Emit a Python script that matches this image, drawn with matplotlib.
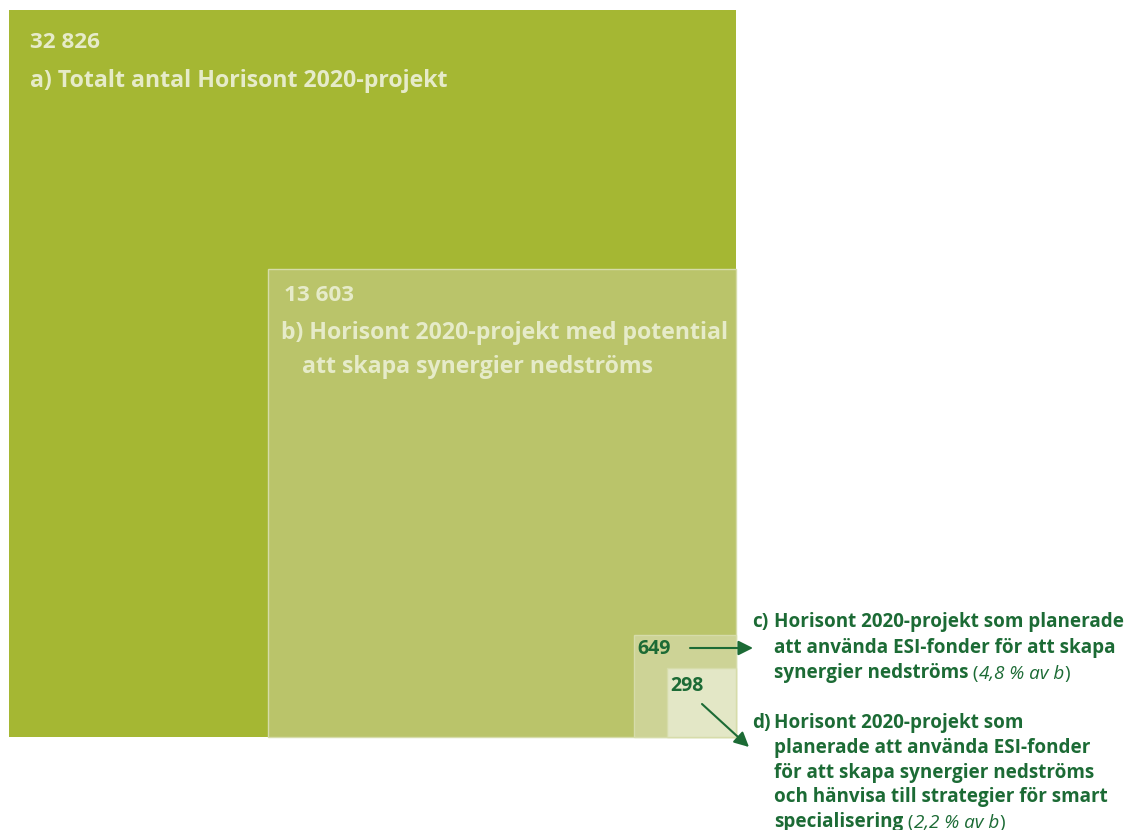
import matplotlib.pyplot as plt
from matplotlib.patches import Rectangle

# Values for the nested squares (area proportional)
labels = ["a", "b", "c", "d"]
values = [32826, 13603, 649, 298]
value_text = ["32 826", "13 603", "649", "298"]
fills = ["#a5b733", "#bac46a", "#cdd396", "#e3e7c6"]

plt.rcParams['font.family'] = ['Open Sans', 'DejaVu Sans']

fig = plt.figure(figsize=(11.32, 8.30), dpi=100)
ax = fig.add_axes([0, 0, 1, 1])
ax.set_xlim(0, 1132)
ax.set_ylim(830, 0)
ax.axis('off')

# squares anchored at the bottom-right corner
right, bottom = 736, 737
side_a = 727
sides = [side_a * (v / values[0]) ** 0.5 for v in values]
for i, (s, col) in enumerate(zip(sides, fills)):
    ec = 'none' if i == 0 else '#d6dcaa'
    ax.add_patch(Rectangle((right - s, bottom - s), s, s, facecolor=col,
                           edgecolor=ec, lw=1.0, zorder=i + 1))

light = '#e6ebc9'
dark = '#1c6b35'
num = 16.2
big = 16.7

# labels inside the big squares
ax.text(right - sides[0] + 21, bottom - sides[0] + 32, value_text[0],
        color=light, fontsize=num, fontweight='bold', va='center', zorder=10)
ax.text(right - sides[0] + 21, bottom - sides[0] + 71,
        "a) Totalt antal Horisont 2020-projekt",
        color=light, fontsize=big, fontweight='bold', va='center', zorder=10)
ax.text(right - sides[1] + 16, bottom - sides[1] + 26, value_text[1],
        color=light, fontsize=num, fontweight='bold', va='center', zorder=10)
ax.text(right - sides[1] + 13, bottom - sides[1] + 64,
        "b) Horisont 2020-projekt med potential",
        color=light, fontsize=big, fontweight='bold', va='center', zorder=10)
ax.text(right - sides[1] + 34, bottom - sides[1] + 98,
        "att skapa synergier nedströms",
        color=light, fontsize=big, fontweight='bold', va='center', zorder=10)

# small squares numbers
ax.text(right - sides[2] + 4, 649, value_text[2], color=dark, fontsize=14,
        fontweight='bold', va='center', zorder=10)
ax.text(right - sides[3] + 4, 686, value_text[3], color=dark, fontsize=14,
        fontweight='bold', va='center', zorder=10)

# arrows
ax.annotate('', xy=(753, 648), xytext=(690, 648), zorder=10,
            arrowprops=dict(arrowstyle='-|>', color=dark, lw=1.5,
                            mutation_scale=22, shrinkA=0, shrinkB=0))
ax.annotate('', xy=(749, 747), xytext=(702, 704), zorder=10,
            arrowprops=dict(arrowstyle='-|>', color=dark, lw=1.5,
                            mutation_scale=22, shrinkA=0, shrinkB=0))

# right-hand descriptions
fs = 13.6
lh = 24.8


def after(txt, s, style='normal', weight='normal'):
    # place a text piece right after another one on the same baseline
    return ax.annotate(s, xycoords=txt, xy=(1, 0), color=dark, fontsize=fs,
                       va='bottom', ha='left', style=style, fontweight=weight)


c_lines = ["Horisont 2020-projekt som planerade",
           "att använda ESI-fonder för att skapa",
           "synergier nedströms"]
ax.text(752, 622, "c)", color=dark, fontsize=fs, fontweight='bold', va='center')
for k, line in enumerate(c_lines):
    t = ax.text(774, 622 + k * 25.5, line, color=dark, fontsize=fs,
                fontweight='bold', va='center')
u = after(t, " (")
u = after(u, "4,8 % av b", style='italic')
u = after(u, ")")

d_lines = ["Horisont 2020-projekt som",
           "planerade att använda ESI-fonder",
           "för att skapa synergier nedströms",
           "och hänvisa till strategier för smart",
           "specialisering"]
ax.text(752, 723, "d)", color=dark, fontsize=fs, fontweight='bold', va='center')
for k, line in enumerate(d_lines):
    t = ax.text(774, 723 + k * lh, line, color=dark, fontsize=fs,
                fontweight='bold', va='center')
u = after(t, " (")
u = after(u, "2,2 % av b", style='italic')
u = after(u, ")")

fig.savefig('out.png', dpi=100)
